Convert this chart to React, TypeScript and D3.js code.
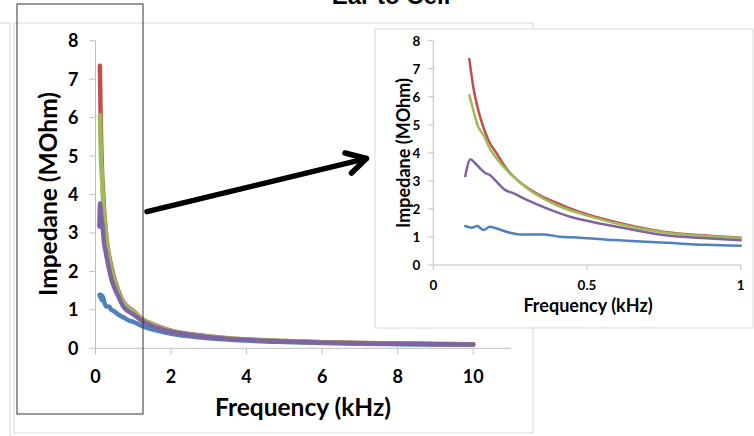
import React from "react";
import * as d3 from "d3";

const redF = [0.117, 0.13, 0.152, 0.179, 0.206, 0.239, 0.282, 0.347, 0.423, 0.477, 0.586, 0.748, 0.889, 1.0, 1.25, 1.5, 2, 2.5, 3, 4, 5, 6, 7, 8, 9, 10];
const redZ = [7.35, 6.36, 5.29, 4.46, 3.98, 3.42, 2.95, 2.48, 2.12, 1.89, 1.55, 1.19, 1.05, 0.975, 0.75, 0.63, 0.46, 0.37, 0.31, 0.23, 0.19, 0.16, 0.14, 0.125, 0.115, 0.105];
const greenF = [0.117, 0.13, 0.146, 0.163, 0.184, 0.217, 0.26, 0.315, 0.401, 0.477, 0.586, 0.748, 0.889, 1.0, 1.25, 1.5, 2, 2.5, 3, 4, 5, 6, 7, 8, 9, 10];
const greenZ = [6.06, 5.53, 4.93, 4.64, 4.15, 3.65, 3.15, 2.66, 2.14, 1.84, 1.51, 1.17, 1.03, 0.96, 0.74, 0.62, 0.455, 0.365, 0.305, 0.228, 0.188, 0.158, 0.138, 0.123, 0.113, 0.103];
const purpleF = [0.104, 0.121, 0.136, 0.152, 0.168, 0.184, 0.206, 0.233, 0.26, 0.304, 0.369, 0.445, 0.477, 0.586, 0.748, 0.889, 1.0, 1.25, 1.5, 2, 2.5, 3, 4, 5, 6, 7, 8, 9, 10];
const purpleZ = [3.17, 3.77, 3.63, 3.45, 3.29, 3.21, 2.97, 2.68, 2.56, 2.32, 2.02, 1.72, 1.63, 1.39, 1.07, 0.95, 0.88, 0.7, 0.58, 0.43, 0.35, 0.29, 0.22, 0.18, 0.15, 0.13, 0.118, 0.108, 0.098];
const blueF = [0.104, 0.125, 0.143, 0.163, 0.184, 0.206, 0.249, 0.282, 0.358, 0.412, 0.477, 0.586, 0.748, 0.889, 1.0, 1.25, 1.5, 2, 2.5, 3, 4, 5, 6, 7, 8, 9, 10];
const blueZ = [1.39, 1.33, 1.39, 1.25, 1.36, 1.3, 1.15, 1.09, 1.09, 1.01, 0.975, 0.89, 0.8, 0.72, 0.69, 0.57, 0.49, 0.38, 0.31, 0.26, 0.2, 0.165, 0.14, 0.12, 0.108, 0.098, 0.09];

const mainXTicks = [0, 2, 4, 6, 8, 10];
const insetXTicks = [0, 0.5, 1];
const yTicks = [0, 1, 2, 3, 4, 5, 6, 7, 8];

const series = [
  { f: blueF, z: blueZ, color: "#4F81BD" },
  { f: redF, z: redZ, color: "#C0504D" },
  { f: greenF, z: greenZ, color: "#9BBB59" },
  { f: purpleF, z: purpleZ, color: "#8064A2" },
];

const FONT = "Lato, 'Open Sans', sans-serif";
const AXIS = "#bfbfbf";

function Chart({ x, y, xTicks, lw, maxF, tickFont, tickLen, yGap, xLabelY }: any) {
  const line = d3
    .line<[number, number]>()
    .x((d) => x(d[0]))
    .y((d) => y(d[1]))
    .curve(d3.curveMonotoneX);
  const [x0, x1] = x.range();
  const [y0, y1] = y.range();
  return (
    <g>
      <line x1={x0} x2={x1} y1={y0} y2={y0} stroke={AXIS} />
      <line x1={x0} x2={x0} y1={y0} y2={y1} stroke={AXIS} />
      {yTicks.map((t) => (
        <g key={"y" + t}>
          <line x1={x0 - tickLen} x2={x0} y1={y(t)} y2={y(t)} stroke={AXIS} />
          <text x={x0 - tickLen - yGap} y={y(t)} dy="0.36em" textAnchor="end" fontFamily={FONT} fontWeight={700} fontSize={tickFont} fill="#000">
            {t}
          </text>
        </g>
      ))}
      {xTicks.map((t: number) => (
        <g key={"x" + t}>
          <line x1={x(t)} x2={x(t)} y1={y0} y2={y0 + tickLen} stroke={AXIS} />
          <text x={x(t)} y={xLabelY} dy="0.36em" textAnchor="middle" fontFamily={FONT} fontWeight={700} fontSize={tickFont} fill="#000">
            {String(t)}
          </text>
        </g>
      ))}
      {series.map((s, i) => {
        const pts: [number, number][] = s.f
          .map((f, j) => [f, s.z[j]] as [number, number])
          .filter((p) => p[0] <= maxF);
        return <path key={i} d={line(pts) || ""} fill="none" stroke={s.color} strokeWidth={lw} strokeLinejoin="round" strokeLinecap="round" />;
      })}
    </g>
  );
}

export default function App() {
  const mx = d3.scaleLinear().domain([0, 11]).range([95.5, 511]);
  const my = d3.scaleLinear().domain([0, 8]).range([348.3, 40.7]);
  const ix = d3.scaleLinear().domain([0, 1]).range([433.3, 740.7]);
  const iy = d3.scaleLinear().domain([0, 8]).range([265, 40.7]);

  return (
    <svg width={754} height={436} style={{ position: "absolute", left: 0, top: 0, background: "#fff" }}>
      <rect x={0} y={0} width={754} height={436} fill="#fff" />
      <text x={391} y={4} textAnchor="middle" fontFamily="'Liberation Sans', Arial, sans-serif" fontWeight={700} fontSize={24} fill="#000">
        Ear to Cell
      </text>
      <polyline points="0,23 10,23 10,436" fill="none" stroke="#d0d0d0" />
      <rect x={14} y={23} width={519} height={410} fill="#fff" stroke="#d9d9d9" />

      <Chart x={mx} y={my} xTicks={mainXTicks} lw={4.5} maxF={10} tickFont={18} tickLen={6} yGap={11} xLabelY={377} />
      <text x={303} y={416} textAnchor="middle" fontFamily={FONT} fontWeight={700} fontSize={24.5} fill="#000">
        Frequency (kHz)
      </text>
      <text transform="translate(57,194) rotate(-90)" textAnchor="middle" fontFamily={FONT} fontWeight={700} fontSize={24.5} fill="#000">
        Impedane (MOhm)
      </text>

      <rect x={17} y={4} width={126} height={410} fill="none" stroke="#333" strokeWidth={1} />

      <line x1={147} y1={211.7} x2={366} y2={158.6} stroke="#000" strokeWidth={5.5} strokeLinecap="round" />
      <polyline points="345,153 366.5,158.5 351.5,173" fill="none" stroke="#000" strokeWidth={5.5} strokeLinecap="round" strokeLinejoin="round" />

      <rect x={375} y={29} width={378} height={299} fill="#fff" stroke="#d9d9d9" />
      <Chart x={ix} y={iy} xTicks={insetXTicks} lw={2.5} maxF={1} tickFont={13.5} tickLen={5} yGap={8} xLabelY={285} />
      <text x={588} y={312} textAnchor="middle" fontFamily={FONT} fontWeight={700} fontSize={18} fill="#000">
        Frequency (kHz)
      </text>
      <text transform="translate(410,153) rotate(-90)" textAnchor="middle" fontFamily={FONT} fontWeight={700} fontSize={18} fill="#000">
        Impedane (MOhm)
      </text>
    </svg>
  );
}
